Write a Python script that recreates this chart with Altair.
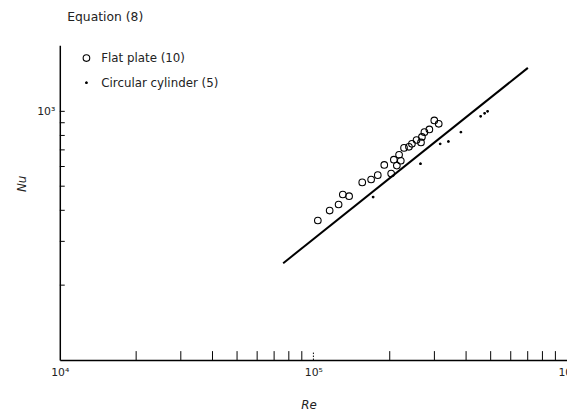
import altair as alt
import pandas as pd

# --- data ---
series_names = ["Flat plate (10)", "Circular cylinder (5)"]

flat_re = [104100, 115900, 125700, 130600, 138300, 155800, 168900, 179400,
           190300, 202600, 207600, 213300, 221100, 217700, 227700, 238100,
           244600, 255100, 265600, 267900, 274000, 286600, 299700, 312000]
flat_nu = [364, 399, 422, 463, 456, 518, 532, 554,
           609, 562, 639, 605, 633, 669, 713, 720,
           740, 767, 750, 789, 825, 846, 919, 891]

cyl_re = [172000, 264400, 316200, 340700, 381600, 456600, 473300, 486200]
cyl_nu = [452, 616, 740, 757, 825, 955, 982, 1000]

eq_re = [76000, 701000]
eq_nu = [245, 1496]

x_major = [1e4, 1e5, 1e6]
x_labels = ["10⁴", "10⁵", "10⁶"]
x_minor = [2e4, 3e4, 4e4, 5e4, 6e4, 7e4, 8e4, 9e4,
           2e5, 3e5, 4e5, 5e5, 6e5, 7e5, 8e5, 9e5]
y_minor = [200, 300, 400, 500, 600, 700, 800, 900, 1000]

# --- tables ---
pts = pd.DataFrame({
    "Re": flat_re + cyl_re,
    "Nu": flat_nu + cyl_nu,
    "series": [series_names[0]] * len(flat_re) + [series_names[1]] * len(cyl_re),
})
eq = pd.DataFrame({"Re": eq_re, "Nu": eq_nu})
xt = pd.DataFrame({"Re": x_minor})
xt_major = pd.DataFrame({"Re": [x_major[1]]})
yt = pd.DataFrame({"Nu": y_minor})

W, H = 514, 319
FONT = "DejaVu Sans"
INK = "#222222"

xscale = alt.Scale(type="log", domain=[1e4, 1e6], nice=False)
yscale = alt.Scale(type="log", domain=[100, 1845], nice=False)

label_expr_x = " : ".join(
    f"datum.value == {int(v)} ? '{l}'" for v, l in zip(x_major[:-1], x_labels[:-1])
) + f" : '{x_labels[-1]}'"

xaxis = alt.Axis(values=x_major, labelExpr=label_expr_x, ticks=False, tickSize=0,
                 grid=False, domainColor="black", domainWidth=1.5,
                 labelPadding=7, labelFontSize=11, labelColor=INK, labelFont=FONT,
                 labelFlush=False, labelOverlap=False,
                 title="Re", titleFont=FONT, titleFontStyle="italic",
                 titleFontWeight="normal", titleFontSize=12, titleColor=INK,
                 titleX=252, titleY=45, titleBaseline="middle", titleAlign="center")
yaxis = alt.Axis(values=[1000], labelExpr="'10³'", ticks=False, tickSize=0,
                 grid=False, domainColor="black", domainWidth=1.5,
                 labelPadding=5, labelFontSize=11, labelColor=INK, labelFont=FONT,
                 labelFlush=False, labelOverlap=False,
                 title="Nu", titleFont=FONT, titleFontStyle="italic",
                 titleFontWeight="normal", titleFontSize=12, titleColor=INK,
                 titleX=-39, titleY=140, titleBaseline="middle", titleAlign="center")


def X():
    return alt.X("Re:Q", scale=xscale, axis=xaxis)


def Y():
    return alt.Y("Nu:Q", scale=yscale, axis=yaxis)


leg = alt.Legend(orient="none", legendX=21, legendY=7, title=None, padding=0,
                 labelOffset=9, rowPadding=13, labelFont=FONT, labelFontSize=12,
                 labelColor=INK, symbolStrokeWidth=1.1)

line = alt.Chart(eq).mark_line(color="black", strokeWidth=2).encode(x=X(), y=Y())

points = alt.Chart(pts).mark_point(strokeWidth=1.1, opacity=1).encode(
    x=X(), y=Y(),
    size=alt.Size("series:N", scale=alt.Scale(domain=series_names, range=[45, 3]), legend=leg),
    fill=alt.Fill("series:N", scale=alt.Scale(domain=series_names, range=["transparent", "black"]), legend=leg),
    stroke=alt.Stroke("series:N", scale=alt.Scale(domain=series_names, range=["black", "black"]), legend=leg),
    shape=alt.Shape("series:N", scale=alt.Scale(domain=series_names, range=["circle", "circle"]), legend=leg),
)

xticks = alt.Chart(xt).mark_rule(color="black", strokeWidth=1).encode(
    x=X(), y=alt.value(H), y2=alt.value(H - 9))
xticks_major = alt.Chart(xt_major).mark_rule(color="black", strokeWidth=1, strokeDash=[1.5, 1.5]).encode(
    x=X(), y=alt.value(H), y2=alt.value(H - 9))
yticks = alt.Chart(yt).mark_rule(color="black", strokeWidth=1).encode(
    y=Y(), x=alt.value(0), x2=alt.value(5))

chart = alt.layer(xticks, xticks_major, yticks, line, points).properties(
    width=W, height=H,
    autosize=alt.AutoSizeParams(type="none"),
    padding={"left": 52.5, "top": 35, "right": 0, "bottom": 51},
    title=alt.TitleParams("Equation (8)", anchor="start", frame="group", dx=7.5,
                          offset=12, baseline="alphabetic", fontSize=12.5,
                          fontWeight="normal", font=FONT, color=INK),
).configure(background="white").configure_view(stroke=None)

chart.save("out.html", embed_options={"renderer": "svg", "actions": False})
